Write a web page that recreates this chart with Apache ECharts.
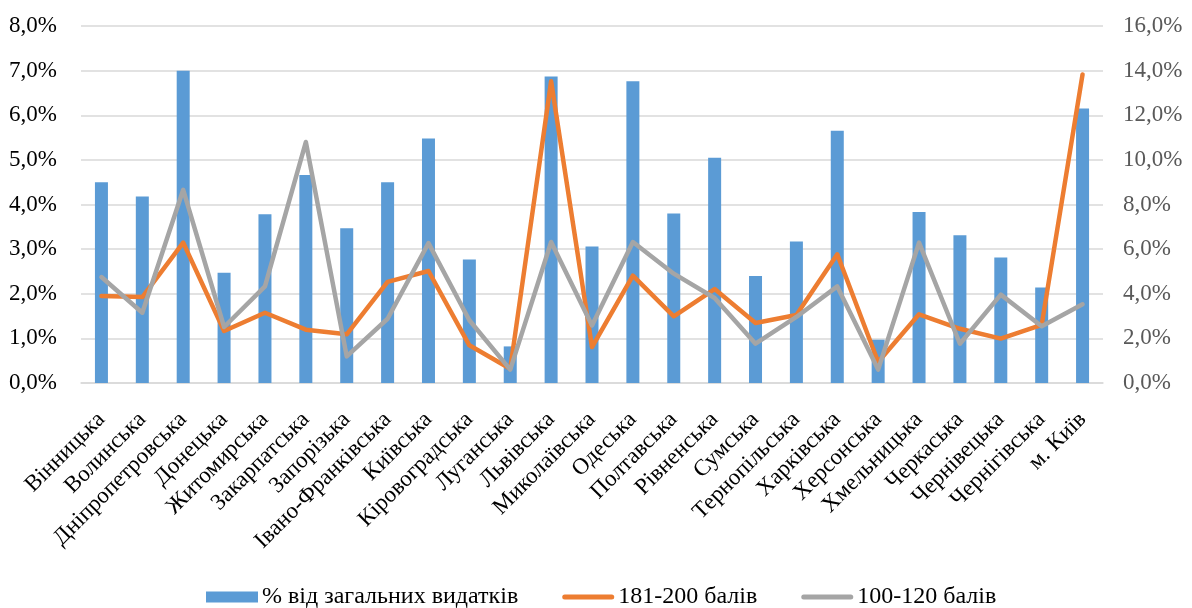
<!DOCTYPE html>
<html><head><meta charset="utf-8">
<script src="https://cdn.jsdelivr.net/npm/echarts@6/dist/echarts.min.js"></script>
<style>html,body{margin:0;padding:0;background:#fff}#c{width:1192px;height:608px}</style>
</head><body><div id="c"></div>
<script>
const categories = ['Вінницька','Волинська','Дніпропетровська','Донецька','Житомирська','Закарпатська','Запорізька','Івано-Франківська','Київська','Кіровоградська','Луганська','Львівська','Миколаївська','Одеська','Полтавська','Рівненська','Сумська','Тернопільська','Харківська','Херсонська','Хмельницька','Черкаська','Чернівецька','Чернігівська','м. Київ'];
const sharePct = [4.50,4.18,7.00,2.47,3.78,4.66,3.47,4.50,5.48,2.77,0.82,6.87,3.06,6.76,3.80,5.05,2.40,3.17,5.65,0.97,3.83,3.31,2.81,2.14,6.15];
const score181_200 = [3.90,3.85,6.29,2.33,3.15,2.39,2.18,4.53,5.02,1.69,0.64,13.52,1.61,4.81,2.99,4.21,2.69,3.05,5.77,0.94,3.08,2.43,1.99,2.60,13.83];
const score100_120 = [4.75,3.15,8.66,2.51,4.33,10.80,1.19,2.88,6.27,2.81,0.60,6.32,2.58,6.32,4.90,3.81,1.76,2.96,4.33,0.60,6.29,1.76,3.96,2.54,3.53];
const seriesNames = ['% від загальних видатків','181-200 балів','100-120 балів'];

const fmt = v => v.toFixed(1).replace('.', ',') + '%';
const font = 'Liberation Serif';
const lineIcon = 'path://M2.5,0L49.5,0A2.5,2.5,0,0,1,49.5,5L2.5,5A2.5,2.5,0,0,1,2.5,0Z';
const chart = echarts.init(document.getElementById('c'));
chart.setOption({
  animation: false,
  textStyle: { fontFamily: font },
  grid: { left: 81, right: 89, top: 26, bottom: 225 },
  legend: {
    top: 580, left: 201, itemGap: 44, itemWidth: 52, itemHeight: 11,
    textStyle: { fontFamily: font, fontSize: 24, color: '#000', padding: [0, 0, 0, -1] },
    data: [
      { name: seriesNames[0], icon: 'rect' },
      { name: seriesNames[1], icon: lineIcon },
      { name: seriesNames[2], icon: lineIcon }
    ]
  },
  xAxis: {
    type: 'category', data: categories,
    axisLine: { lineStyle: { color: '#D9D9D9', width: 1.5 } },
    axisTick: { show: false },
    axisLabel: { rotate: 45, interval: 0, fontSize: 23, color: '#000', fontFamily: font, margin: 33 }
  },
  yAxis: [
    { type: 'value', min: 0, max: 8, interval: 1,
      axisLabel: { formatter: fmt, fontSize: 23, color: '#000', fontFamily: font, margin: 24 },
      axisLine: { show: false }, axisTick: { show: false },
      splitLine: { lineStyle: { color: '#D9D9D9', width: 1.5 } } },
    { type: 'value', min: 0, max: 16, interval: 2,
      axisLabel: { formatter: fmt, fontSize: 23, color: '#595959', fontFamily: font, margin: 20 },
      axisLine: { show: false }, axisTick: { show: false }, splitLine: { show: false } }
  ],
  series: [
    { name: seriesNames[0], type: 'bar', data: sharePct, barWidth: 13, itemStyle: { color: '#5B9BD5' }, yAxisIndex: 0 },
    { name: seriesNames[1], type: 'line', data: score181_200, yAxisIndex: 1, symbol: 'none',
      lineStyle: { color: '#ED7D31', width: 4.5, cap: 'round', join: 'round' }, itemStyle: { color: '#ED7D31' } },
    { name: seriesNames[2], type: 'line', data: score100_120, yAxisIndex: 1, symbol: 'none',
      lineStyle: { color: '#A5A5A5', width: 4.5, cap: 'round', join: 'round' }, itemStyle: { color: '#A5A5A5' } }
  ]
});
</script></body></html>
